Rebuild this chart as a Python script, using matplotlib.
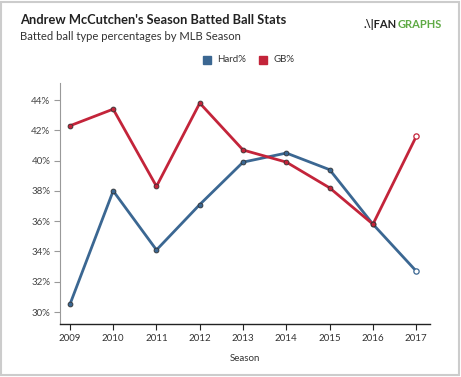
import matplotlib.pyplot as plt
import matplotlib.ticker as ticker
from matplotlib.patches import Rectangle

seasons = [2009, 2010, 2011, 2012, 2013, 2014, 2015, 2016, 2017]
hard_pct = [30.5, 38.0, 34.1, 37.1, 39.9, 40.5, 39.4, 35.8, 32.7]
gb_pct = [42.3, 43.4, 38.3, 43.8, 40.7, 39.9, 38.2, 35.8, 41.6]

blue = '#3b6792'
red = '#c3243a'

plt.rcParams['font.family'] = ['Lato', 'DejaVu Sans']

fig = plt.figure(figsize=(4.61, 3.77), dpi=100)
fig.patches.append(Rectangle((0.003, 0.004), 0.992, 0.992, transform=fig.transFigure,
                             fill=False, edgecolor='#cccccc', linewidth=1.5))

ax = fig.add_axes([0.130, 0.1406, 0.803, 0.639])

for vals, col in [(hard_pct, blue), (gb_pct, red)]:
    ax.plot(seasons, vals, color=col, lw=2.0, zorder=2)
    ax.plot(seasons[:-1], vals[:-1], 'o', ms=3.5, mfc=col, mec='#333333', mew=0.6, zorder=3)
    # latest season drawn as open circle
    ax.plot(seasons[-1:], vals[-1:], 'o', ms=3.8, mfc='white', mec=col, mew=0.9, zorder=3)

ax.set_xlim(2008.77, 2017.32)
ax.set_ylim(29.21, 45.12)
ax.set_xticks(seasons)
ax.set_yticks(range(30, 45, 2))
ax.yaxis.set_major_formatter(ticker.FuncFormatter(lambda v, p: '%d%%' % v))

for s in ['top', 'right']:
    ax.spines[s].set_visible(False)
ax.spines['left'].set_color('#999999')
ax.spines['left'].set_linewidth(0.8)
ax.spines['bottom'].set_color('#222222')
ax.spines['bottom'].set_linewidth(1.0)
ax.tick_params(axis='y', length=4, color='#999999', labelsize=7, labelcolor='#444444', pad=3)
ax.tick_params(axis='x', length=4, color='#222222', labelsize=7, labelcolor='#333333', pad=3)

ax.set_xlabel('Season', fontsize=7, color='#333333', labelpad=8)

fig.text(20 / 461, 1 - 20 / 377, "Andrew McCutchen's Season Batted Ball Stats",
         fontsize=9.3, fontweight='bold', color='#222222', va='center')
fig.text(20 / 461, 1 - 36 / 377, 'Batted ball type percentages by MLB Season',
         fontsize=8.1, color='#333333', va='center')

# logo
fan = fig.text(364 / 461, 1 - 24 / 377, '.\\|FAN', fontsize=8, fontweight='bold',
               color='#222222', va='center')
plt.annotate('GRAPHS', xy=(1, 0.5), xycoords=fan, va='center', ha='left',
             fontsize=8, fontweight='bold', color='#5faa45')

# legend
fig.patches.append(Rectangle((203 / 461, 1 - 64 / 377), 8 / 461, 8 / 377,
                             transform=fig.transFigure, color=blue))
fig.text(217 / 461, 1 - 60 / 377, 'Hard%', fontsize=7, color='#333333', va='center')
fig.patches.append(Rectangle((259 / 461, 1 - 64 / 377), 8 / 461, 8 / 377,
                             transform=fig.transFigure, color=red))
fig.text(273 / 461, 1 - 60 / 377, 'GB%', fontsize=7, color='#333333', va='center')

fig.savefig('out.png', dpi=100)
